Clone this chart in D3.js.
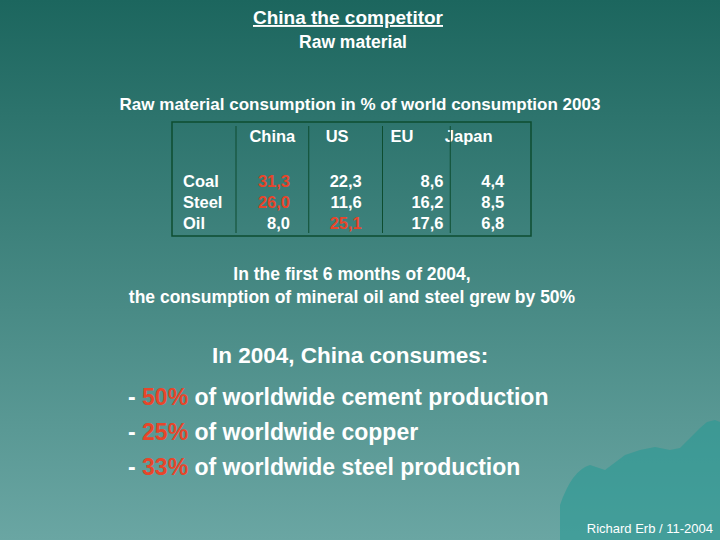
<!DOCTYPE html><html><head><meta charset="utf-8"><script src="https://cdn.jsdelivr.net/npm/d3@7"></script>
<style>body{margin:0}svg{display:block}</style></head><body><script>
const regions=["China","US","EU","Japan"];
const materials=["Coal","Steel","Oil"];
const valuesChina=["31,3","26,0","8,0"];
const valuesUS=["22,3","11,6","25,1"];
const valuesEU=["8,6","16,2","17,6"];
const valuesJapan=["4,4","8,5","6,8"];
const highlight=[[0,0],[1,0],[2,1]]; // [row, col]
const bullets=[["50%","of worldwide cement production"],["25%","of worldwide copper"],["33%","of worldwide steel production"]];
const cols=[valuesChina,valuesUS,valuesEU,valuesJapan];
const W=720,H=540,F="Liberation Sans, Arial, sans-serif",RED="#e8452a";
const svg=d3.select("body").append("svg").attr("width",W).attr("height",H);
const defs=svg.append("defs");
const g=defs.append("linearGradient").attr("id","bg").attr("x1",0).attr("y1",0).attr("x2",0).attr("y2",1);
g.append("stop").attr("offset",0).attr("stop-color","#1c665e");
g.append("stop").attr("offset",1).attr("stop-color","#6aa6a3");
svg.append("rect").attr("width",W).attr("height",H).attr("fill","url(#bg)");
svg.append("path").attr("d","M560,540 L560,505 Q572,470 590,465 L605,470 L625,455 L640,450 L655,447 L670,450 L680,448 L688,440 L700,428 L707,422 L715,420 L720,422 L720,540 Z").attr("fill","#2a9a95").attr("opacity",0.6);
const t=(x,y,s,o={})=>svg.append("text").attr("x",x).attr("y",y).text(s).attr("font-family",F).attr("font-size",o.size||16).attr("fill",o.fill||"#fff").attr("font-weight",o.bold?"bold":null).attr("text-anchor",o.anchor||"start");
t(348,24,"China the competitor",{size:19,anchor:"middle",bold:true}).attr("text-decoration","underline");
t(353,48,"Raw material",{size:17.5,anchor:"middle",bold:true});
t(360,110,"Raw material consumption in % of world consumption 2003",{size:17,anchor:"middle",bold:true});
svg.append("rect").attr("x",172).attr("y",122).attr("width",359).attr("height",114).attr("fill","none").attr("stroke","#0e4d30").attr("stroke-width",1.5);
const x=d3.scaleBand().domain(regions).range([237,520]);
const y=d3.scaleBand().domain(materials).range([173,236]);
regions.forEach((r,i)=>{
  const cx=x(r)+x.bandwidth()/2;
  t(cx+[0,-6,-12,-16][i],142,r,{size:16.5,anchor:"middle",bold:true});
  svg.append("line").attr("x1",x(r)-1+[0,2,5,2][i]).attr("x2",x(r)-1+[0,2,5,2][i]).attr("y1",126).attr("y2",233).attr("stroke","#0e4d30");
  materials.forEach((m,j)=>{
    const red=highlight.some(h=>h[0]===j&&h[1]===i);
    t(x(r)+[53,54,65,55][i],y(m)+14,cols[i][j],{size:16.5,anchor:"end",fill:red?RED:"#fff",bold:true});
  });
});
materials.forEach(m=>t(183,y(m)+14,m,{size:16.5,bold:true}));
t(352,280,"In the first 6 months of 2004,",{size:17.5,anchor:"middle",bold:true});
t(352,303,"the consumption of mineral oil and steel grew by 50%",{size:17.5,anchor:"middle",bold:true});
t(212,363,"In 2004, China consumes:",{size:22.5,bold:true});
bullets.forEach((b,i)=>{
  const tx=t(128,405+i*35,"- ",{size:23,bold:true});
  tx.append("tspan").attr("fill",RED).text(b[0]);
  tx.append("tspan").text(" "+b[1]);
});
t(713,533,"Richard Erb / 11-2004",{size:13,anchor:"end"});
</script></body></html>
